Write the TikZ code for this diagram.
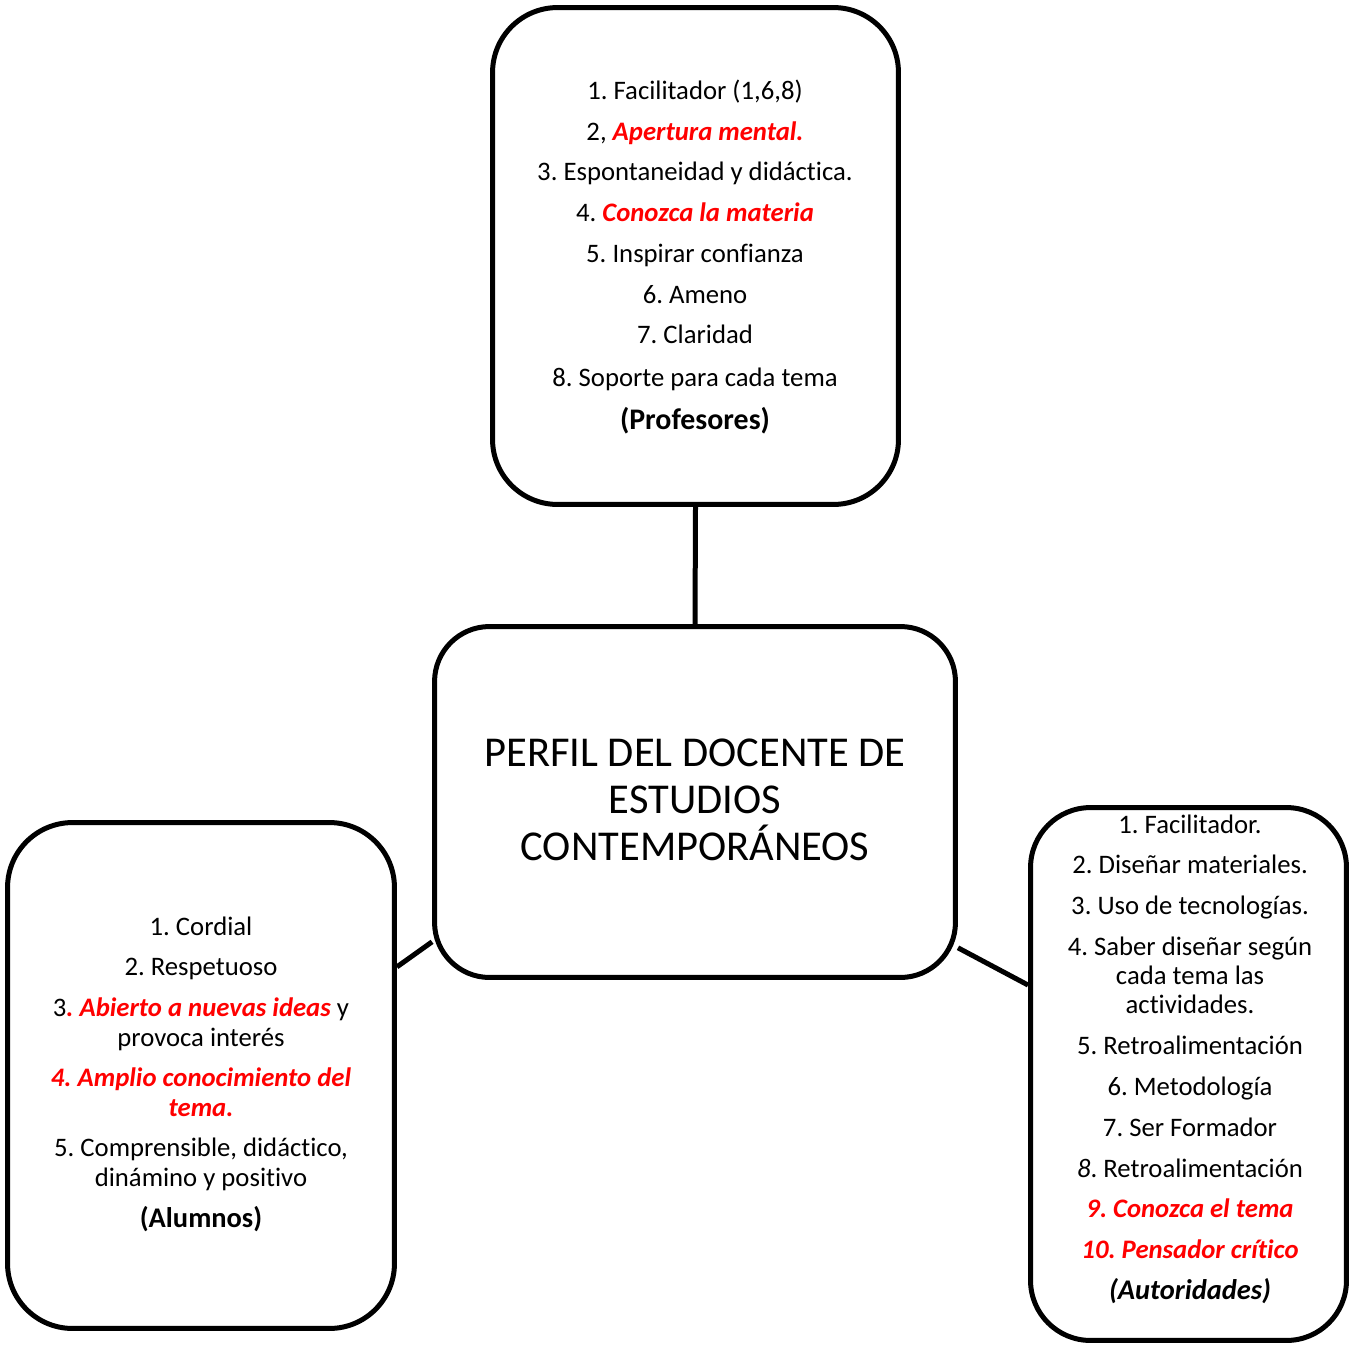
\documentclass[tikz,border=0pt]{standalone}
\usepackage{fontspec}
\setmainfont{Carlito}[Ligatures=NoCommon]
\usetikzlibrary{positioning}
\definecolor{RojoClave}{HTML}{FF0000}
\newcommand{\clave}[1]{\textcolor{RojoClave}{\textbf{\textit{#1}}}}
\frenchspacing

\begin{document}
\begin{tikzpicture}[
    x=0.02cm, y=-0.02cm,
    caja/.style={draw, line width=0.1cm, rounded corners=1.3cm, inner sep=0pt},
    lista/.style={align=center, inner sep=0pt, font=\fontsize{15.2}{16.7}\selectfont},
    titulo/.style={align=center, inner sep=0pt, font=\fontsize{24.2}{26.6}\selectfont},
    enlace/.style={line width=0.1cm}
]
  \useasboundingbox (0,0) rectangle (1351,1345);

  % Cajas
  \node[caja, minimum width=8.12cm, minimum height=9.94cm] (prof) at (695.5,256) {};
  \node[caja, rounded corners=1.1cm, minimum width=10.42cm, minimum height=7.02cm] (ctr) at (695,802) {};
  \node[caja, minimum width=7.74cm, minimum height=10.12cm] (alum) at (201,1075.5) {};
  \node[caja, rounded corners=1.2cm, minimum width=6.32cm, minimum height=10.66cm] (aut) at (1188.5,1074) {};

  % Enlaces
  \draw[enlace] (prof.south) -- (ctr.north);
  \draw[enlace] (alum.29.2) -- (ctr.208.7);
  \draw[enlace] (ctr.331.1) -- (aut.151);

  % Titulo
  \node[titulo] (ctrT) at (695,800) {PERFIL DEL DOCENTE DE\\ESTUDIOS\\CONTEMPORÁNEOS};

  % Profesores
  \node[lista] (profT) at (695,257) {1. Facilitador (1,6,8)\\[6.5pt]
    2, \clave{Apertura mental.}\\[6.5pt]
    3. Espontaneidad y didáctica.\\[6.5pt]
    4. \clave{Conozca la materia}\\[6.5pt]
    5. Inspirar confianza\\[6.5pt]
    6. Ameno\\[6.5pt]
    7. Claridad\\[7.5pt]
    8. Soporte para cada tema\\[8pt]
    {\fontsize{17}{17}\selectfont\textbf{(Profesores)}}};

  % Alumnos
  \node[lista] (alumT) at (201,1074) {1. Cordial\\[6.5pt]
    2. Respetuoso\\[6.5pt]
    3\clave{. Abierto a nuevas ideas} y\\provoca interés\\[6.5pt]
    \clave{4. Amplio conocimiento del}\\\clave{tema.}\\[6.5pt]
    5. Comprensible, didáctico,\\dinámino y positivo\\[6.5pt]
    {\fontsize{16.2}{16.7}\selectfont\textbf{(Alumnos)}}};

  % Autoridades
  \node[lista] (autT) at (1190,1059) {1. Facilitador.\\[6.5pt]
    2. Diseñar materiales.\\[6.5pt]
    3. Uso de tecnologías.\\[6.5pt]
    4. Saber diseñar según\\cada tema las\\actividades.\\[6.5pt]
    5. Retroalimentación\\[6.5pt]
    6. Metodología\\[6.5pt]
    7. Ser Formador\\[6.5pt]
    \textit{8}. Retroalimentación\\[6.5pt]
    \clave{9. Conozca el tema}\\[6.5pt]
    \clave{10. Pensador crítico}\\[6.5pt]
    {\fontsize{16.2}{16.7}\selectfont\textbf{\textit{(Autoridades)}}}};
\end{tikzpicture}
\end{document}
